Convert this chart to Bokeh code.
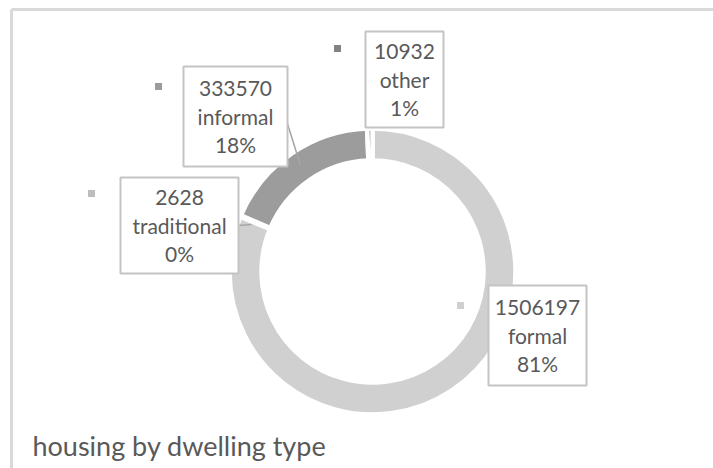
import numpy as np
from bokeh.plotting import figure
from bokeh.models import Range1d, ColumnDataSource
from bokeh.core.properties import value
from bokeh.embed import file_html
from bokeh.resources import INLINE

# ---- data ----
categories = ["formal", "traditional", "informal", "other"]
counts = [1506197, 2628, 333570, 10932]
colors = ["#d0d0d0", "#bdbdbd", "#9c9c9c", "#828282"]
title_text = "housing by dwelling type"

# ---- layout (pixel coordinates, y measured from top) ----
W, H = 713, 468
CX, CY = 372, 271
R_OUT, R_IN = 143, 111
# label box centre, size, marker position
box_cx = [537, 179, 235, 404]
box_cy = [335, 225, 116, 79]
box_w = [98, 118, 104, 78]
box_h = [100, 96, 100, 96]
mark_x = [460, 91, 158, 337]
mark_y = [305, 193, 86, 48]
line_gap = 28

def fy(y):
    return H - np.asarray(y, dtype=float)

p = figure(width=W, height=H, output_backend="svg", toolbar_location=None,
           x_range=Range1d(0, W), y_range=Range1d(0, H), min_border=0)
p.axis.visible = False
p.grid.visible = False
p.outline_line_color = None
p.background_fill_color = "white"
p.border_fill_color = "white"

# chart frame
p.segment(x0=[11, 11], y0=fy([9, 9]), x1=[W + 5, 11], y1=fy([9, H + 5]),
          line_color="#d9d9d9", line_width=3)

# donut
vals = np.array(counts, dtype=float)
frac = vals / vals.sum()
cum = np.concatenate([[0], np.cumsum(frac)])
start = np.pi / 2 - cum[1:] * 2 * np.pi
end = np.pi / 2 - cum[:-1] * 2 * np.pi
src = ColumnDataSource(dict(start=start, end=end, color=colors))
p.annular_wedge(x=CX, y=fy(CY), inner_radius=R_IN, outer_radius=R_OUT,
                start_angle="start", end_angle="end", color="color",
                line_color="white", line_width=4.5, source=src)

# leader lines
p.segment(x0=[286, 238], y0=fy([120, 225]), x1=[300, 251], y1=fy([165, 224]),
          line_color="#a6a6a6", line_width=1.5)

# label boxes
p.rect(x=box_cx, y=fy(box_cy), width=box_w, height=box_h,
       fill_color="white", line_color="#c4c4c4", line_width=2)

# legend-like markers
p.scatter(x=mark_x, y=fy(mark_y), marker="square", size=7,
          fill_color=colors, line_color=None)

# label texts
pct = [f"{int(round(f * 100))}%" for f in frac]
tx, ty, tt = [], [], []
for i in range(len(categories)):
    lines = [str(counts[i]), categories[i], pct[i]]
    for j, s in enumerate(lines):
        tx.append(box_cx[i])
        ty.append(box_cy[i] + (j - 1) * line_gap)
        tt.append(s)
p.text(x=tx, y=fy(ty), text=tt, text_align="center", text_baseline="middle",
       text_font=value("Lato"), text_font_size="21px", text_color="#595959")

# title
p.text(x=[32], y=fy([445]), text=[title_text], text_align="left",
       text_baseline="middle", text_font=value("Lato"),
       text_font_size="27px", text_color="#595959")

open("out.html", "w").write(file_html(p, INLINE))
